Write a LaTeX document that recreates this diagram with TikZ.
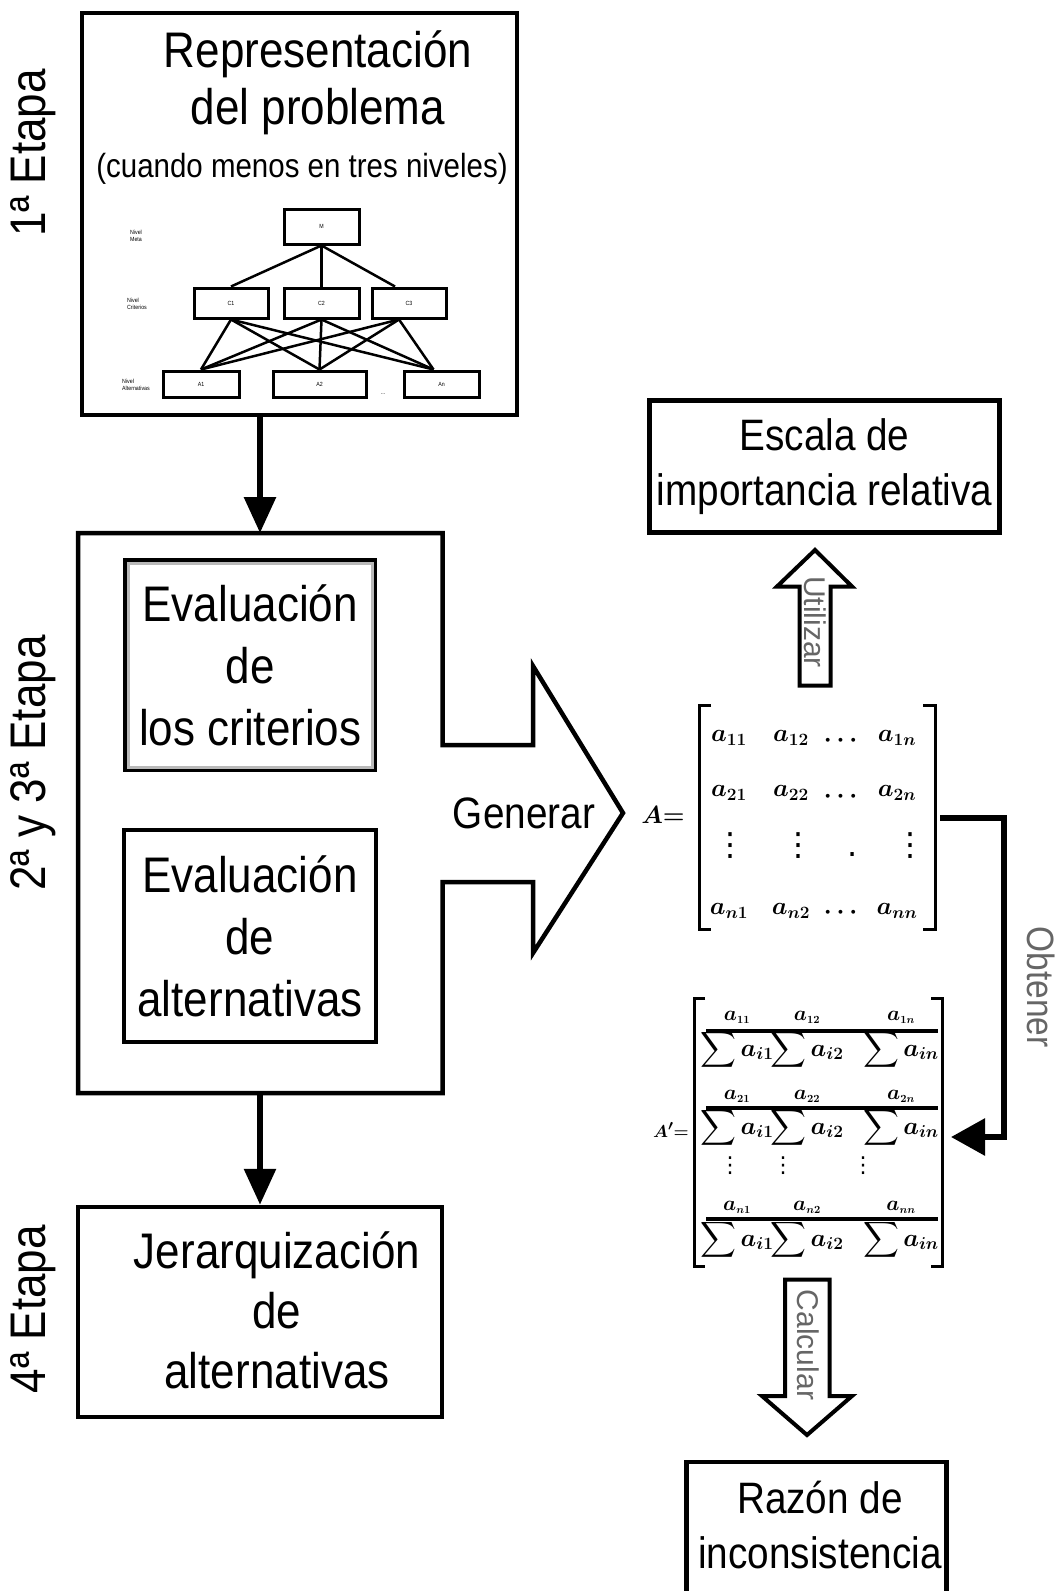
\documentclass[tikz,border=0pt]{standalone}
\usepackage{fontspec}
\usepackage{amsmath}
\setmainfont{Liberation Sans}[FakeStretch=0.88]
\newfontfamily\anchafont{Liberation Sans}
\newfontfamily\simbolos{DejaVu Sans}
\usetikzlibrary{arrows.meta}

\tikzstyle{caja}=[draw=black,line width=4.5pt,inner sep=0pt,align=center]
\tikzstyle{texto}=[inner sep=0pt,align=center]
\tikzstyle{grande}=[font=\fontsize{50}{62}\selectfont]
\tikzstyle{media}=[font=\fontsize{44}{55}\selectfont]
\tikzstyle{etapa}=[inner sep=0pt,rotate=90,font=\fontsize{50}{50}\selectfont]
\tikzstyle{rotulo}=[inner sep=0pt,rotate=-90,text=black!60,font=\anchafont\fontsize{30}{30}\selectfont]
\tikzstyle{hcaja}=[draw=black,line width=3pt,inner sep=0pt,font=\fontsize{6}{7}\selectfont]
\tikzstyle{hnivel}=[inner sep=0pt,align=left,font=\fontsize{6}{7}\selectfont]
\tikzstyle{hlinea}=[line width=2.5pt]
\tikzstyle{elem}=[inner sep=0pt,font=\fontsize{38}{38}\selectfont]
\tikzstyle{puntos}=[inner sep=0pt,font=\simbolos\fontsize{32}{32}\selectfont]
\tikzstyle{num}=[inner sep=0pt,font=\fontsize{21}{21}\selectfont]
\tikzstyle{den}=[inner sep=0pt,font=\fontsize{23}{23}\selectfont]
\tikzstyle{corchete}=[line width=3pt]
\tikzstyle{barra}=[line width=3.5pt]
\tikzstyle{flecha}=[line width=6pt,-{Triangle[length=36pt,width=31pt]}]
\tikzstyle{hueca}=[draw=black,line width=4pt,fill=white,line join=miter]

\newcommand{\matel}[1]{$\boldsymbol{a}_{\scriptscriptstyle\boldsymbol{#1}}$}
\newcommand{\matden}[1]{$\displaystyle\sum\boldsymbol{a}_{\boldsymbol{#1}}$}

\begin{document}
\begin{tikzpicture}[x=1pt,y=-1pt]
\useasboundingbox (0,0) rectangle (1057,1591);

% etapas
\node[etapa] (e1) at (33,153) {1ª Etapa};
\node[etapa] (e23) at (33,763) {2ª y 3ª Etapa};
\node[etapa] (e4) at (33,1309) {4ª Etapa};

% primera etapa
\node[caja,minimum width=435pt,minimum height=402pt] (repr) at (299.5,214) {};
\node[texto,font=\fontsize{50}{57}\selectfont] (titulo) at (318,83) {Representación\\del problema};
\node[texto,anchor=base,font=\fontsize{33.5}{33.5}\selectfont] (nota) at (302,177) {(cuando menos en tres niveles)};

% jerarquia
\node[hcaja,minimum width=75pt,minimum height=35pt] (meta) at (321.5,226.5) {M};
\node[hcaja,minimum width=74pt,minimum height=30pt] (c1) at (231,303) {C1};
\node[hcaja,minimum width=75pt,minimum height=30pt] (c2) at (321.5,303) {C2};
\node[hcaja,minimum width=74pt,minimum height=30pt] (c3) at (409,303) {C3};
\node[hcaja,minimum width=76pt,minimum height=26pt] (a1) at (201,384) {A1};
\node[hcaja,minimum width=93pt,minimum height=26pt] (a2) at (319.5,384) {A2};
\node[hcaja,minimum width=75pt,minimum height=26pt] (a3) at (441.5,384) {An};
\node[hnivel] (n1) at (136,236) {Nivel\\Meta};
\node[hnivel] (n2) at (137,304) {Nivel\\Criterios};
\node[hnivel] (n3) at (136,385) {Nivel\\Alternativas};
\node[hnivel] (suspensivos) at (383,394) {...};

\draw[hlinea] (meta.south) -- (c1.north);
\draw[hlinea] (meta.south) -- (c2.north);
\draw[hlinea] (meta.south) -- ([xshift=-14pt]c3.north);
\draw[hlinea] (c1.south) -- (a1.north);
\draw[hlinea] (c1.south) -- (a2.north);
\draw[hlinea] (c1.south) -- ([xshift=-8pt]a3.north);
\draw[hlinea] (c2.south) -- (a1.north);
\draw[hlinea] (c2.south) -- (a2.north);
\draw[hlinea] (c2.south) -- ([xshift=-8pt]a3.north);
\draw[hlinea] ([xshift=-10pt]c3.south) -- (a1.north);
\draw[hlinea] ([xshift=-10pt]c3.south) -- (a2.north);
\draw[hlinea] ([xshift=-10pt]c3.south) -- ([xshift=-8pt]a3.north);

% segunda y tercera etapa
\draw[line width=4.5pt,line join=miter] (78,533) -- (442.5,533) -- (442.5,745) -- (533,745) -- (533,666)
  -- (623,813) -- (533,953) -- (533,882) -- (442.5,882) -- (442.5,1093) -- (78,1093) -- cycle;
\coordinate (b2n) at (260,533);
\coordinate (b2s) at (260,1093);
\node[caja,grande,line width=4pt,minimum width=250pt,minimum height=210pt] (crit) at (250.25,665.25) {Evaluación\\de\\los criterios};
\draw[gray!55,line width=3.5pt] ([shift={(5pt,-5pt)}]crit.north west) rectangle ([shift={(-5pt,5pt)}]crit.south east);
\node[caja,grande,line width=3.5pt,minimum width=252pt,minimum height=212pt] (alt) at (250,936) {Evaluación\\de\\alternativas};
\node[texto,media] (generar) at (524,813) {Generar};

% cuarta etapa
\node[caja,minimum width=364pt,minimum height=210pt] (etapa4) at (260,1312) {};
\node[texto,font=\fontsize{50}{60}\selectfont] (jer) at (277,1310) {Jerarquización\\de\\alternativas};

\draw[flecha] (repr.south -| b2n) -- (b2n);
\draw[flecha] (b2s) -- (etapa4.north);

% escala
\node[caja,media,minimum width=350pt,minimum height=132pt] (escala) at (824.5,466.5) {Escala de\\importancia relativa};
\draw[hueca] (799.5,685.5) -- (799.5,586.5) -- (777,586.5) -- (815,550) -- (852,586.5) -- (830.5,586.5) -- (830.5,685.5) -- cycle;
\node[rotulo] (utilizar) at (815,622) {Utilizar};

% matriz A
\node[elem,font=\fontsize{32}{32}\selectfont] (Aigual) at (663,815) {$\boldsymbol{A}{\boldsymbol{=}}$};
\draw[corchete] (711,705) -- (699,705) -- (699,929) -- (711,929);
\draw[corchete] (923,705) -- (935,705) -- (935,929) -- (923,929);
\node[elem] (a11) at (729,738) {\matel{11}};
\node[elem] (a12) at (791,738) {\matel{12}};
\node[elem] (d1) at (843,741) {$\boldsymbol{\cdots}$};
\node[elem] (a1n) at (897,738) {\matel{1n}};
\node[elem] (a21) at (729,793) {\matel{21}};
\node[elem] (a22) at (791,793) {\matel{22}};
\node[elem] (d2) at (843,797) {$\boldsymbol{\cdots}$};
\node[elem] (a2n) at (897,793) {\matel{2n}};
\node[puntos] (v1) at (730,846) {⋮};
\node[puntos] (v2) at (798,846) {⋮};
\node[puntos] (v3) at (853,855) {.};
\node[puntos] (v4) at (910,846) {⋮};
\node[elem] (an1) at (729,911) {\matel{n1}};
\node[elem] (an2) at (791,911) {\matel{n2}};
\node[elem] (d3) at (843,913) {$\boldsymbol{\cdots}$};
\node[elem] (ann) at (897,911) {\matel{nn}};

% matriz normalizada
\node[num,font=\fontsize{19}{19}\selectfont] (Apigual) at (671,1130) {$\boldsymbol{A'}{\boldsymbol{=}}$};
\draw[corchete] (705,998) -- (694,998) -- (694,1266) -- (705,1266);
\draw[corchete] (931,998) -- (942,998) -- (942,1266) -- (931,1266);
\draw[barra] (706,1031) -- (938,1031);
\draw[barra] (706,1108) -- (938,1108);
\draw[barra] (706,1219) -- (938,1219);
\node[num] (p11) at (737,1017) {\matel{11}};
\node[num] (p12) at (807,1017) {\matel{12}};
\node[num] (p1n) at (901,1017) {\matel{1n}};
\node[den] (s11) at (737,1050) {\matden{i1}};
\node[den] (s12) at (807,1050) {\matden{i2}};
\node[den] (s1n) at (901,1050) {\matden{in}};
\node[num] (p21) at (737,1096) {\matel{21}};
\node[num] (p22) at (807,1096) {\matel{22}};
\node[num] (p2n) at (901,1096) {\matel{2n}};
\node[den] (s21) at (737,1128) {\matden{i1}};
\node[den] (s22) at (807,1128) {\matden{i2}};
\node[den] (s2n) at (901,1128) {\matden{in}};
\node[puntos,font=\simbolos\fontsize{22}{22}\selectfont] (w1) at (730,1166) {⋮};
\node[puntos,font=\simbolos\fontsize{22}{22}\selectfont] (w2) at (783,1166) {⋮};
\node[puntos,font=\simbolos\fontsize{22}{22}\selectfont] (w3) at (863,1166) {⋮};
\node[num] (pn1) at (737,1207) {\matel{n1}};
\node[num] (pn2) at (807,1207) {\matel{n2}};
\node[num] (pnn) at (901,1207) {\matel{nn}};
\node[den] (sn1) at (737,1240) {\matden{i1}};
\node[den] (sn2) at (807,1240) {\matden{i2}};
\node[den] (snn) at (901,1240) {\matden{in}};

\coordinate (Ader) at (940,818);
\coordinate (Apder) at (951,1137);
\draw[line width=6pt,line join=miter,-{Triangle[length=34pt,width=36pt]}] (Ader) -- ++(64,0) |- (Apder);
\node[rotulo,font=\fontsize{38}{38}\selectfont] (obtener) at (1041,987) {Obtener};

% razon de inconsistencia
\draw[hueca] (785,1279.5) -- (785,1396) -- (762,1396) -- (807,1435) -- (852,1396) -- (829.5,1396) -- (829.5,1279.5) -- cycle;
\node[rotulo] (calcular) at (808,1345) {Calcular};
\node[caja,minimum width=260pt,minimum height=200pt] (razon) at (816.5,1562) {};
\node[texto,media] (razontxt) at (820,1525) {Razón de\\inconsistencia};
\end{tikzpicture}
\end{document}
